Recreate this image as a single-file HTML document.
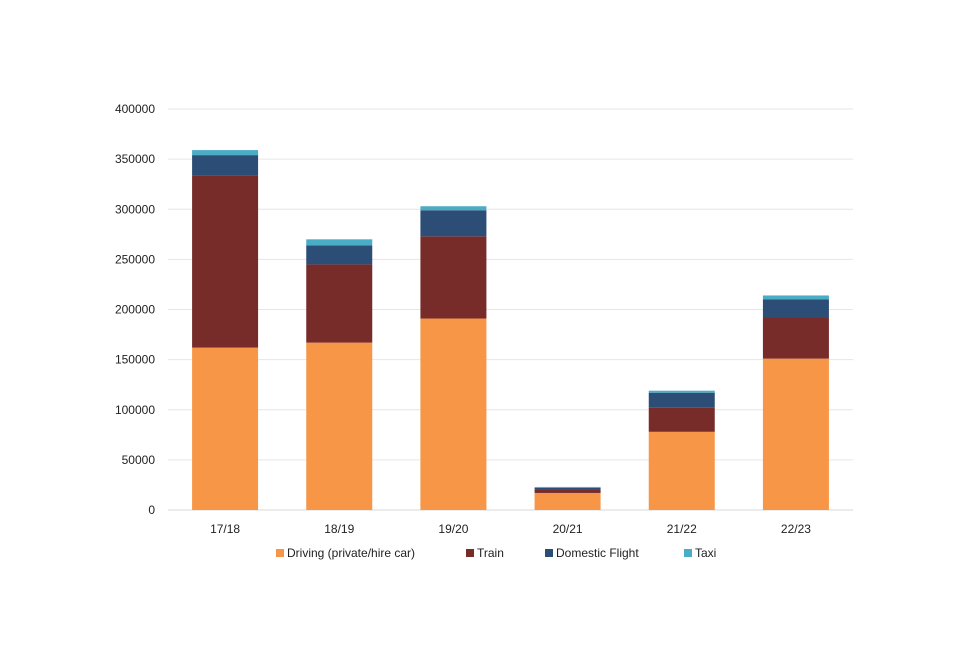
<!DOCTYPE html>
<html><head><meta charset="utf-8"><style>
body{margin:0;background:#fff;}
svg text{font-family:"Liberation Sans",sans-serif;font-size:12px;fill:#222;}
</style></head><body>
<svg id="chart" width="960" height="640"></svg>
<script>
const categories=["17/18","18/19","19/20","20/21","21/22","22/23"];
const driving=[162000,167000,191000,17000,78000,151000];
const train=[172000,78000,82000,3000,24000,41000];
const flight=[20000,19000,26000,2000,15000,18000];
const taxi=[5000,6000,4000,1000,2000,4000];
const yTicks=[0,50000,100000,150000,200000,250000,300000,350000,400000];
const seriesNames=["Driving (private/hire car)","Train","Domestic Flight","Taxi"];
const colors=["#F79646","#772C2A","#2C4D75","#4BACC6"];
const NS="http://www.w3.org/2000/svg";
const svg=document.getElementById('chart');
const x0=168,x1=853,yBase=510,yTop=109,yMax=400000;
const y=v=>yBase-(v/yMax)*(yBase-yTop);
const band=(x1-x0)/categories.length;
const xc=i=>x0+band*(i+0.5);
const bw=66;
function mk(t,a){const e=document.createElementNS(NS,t);for(const k in a)e.setAttribute(k,a[k]);svg.appendChild(e);return e;}
yTicks.forEach(v=>{
  const g=mk('line',{x1:x0,x2:x1,y1:y(v),y2:y(v),stroke:v===0?'#d9d9d9':'#e6e6e6','stroke-width':1});
  
  
  const t=mk('text',{x:155,y:y(v)+4,'text-anchor':'end'});t.textContent=v;
  
  
});
const series=[driving,train,flight,taxi];
categories.forEach((c,i)=>{
  let acc=0;
  series.forEach((s,k)=>{
    const r=mk('rect',{x:xc(i)-bw/2,y:y(acc+s[i]),width:bw,height:y(acc)-y(acc+s[i]),fill:colors[k]});
    
    
    acc+=s[i];
  });
  const t=mk('text',{x:xc(i),y:533,'text-anchor':'middle'});t.textContent=c;
  
  
});
const lx=[276,466,545,684];
seriesNames.forEach((n,k)=>{
  const r=mk('rect',{x:lx[k],y:549,width:8,height:8,fill:colors[k]});
  
  
  const t=mk('text',{x:lx[k]+11,y:557});t.textContent=n;
  
  
});
</script>
</body></html>
